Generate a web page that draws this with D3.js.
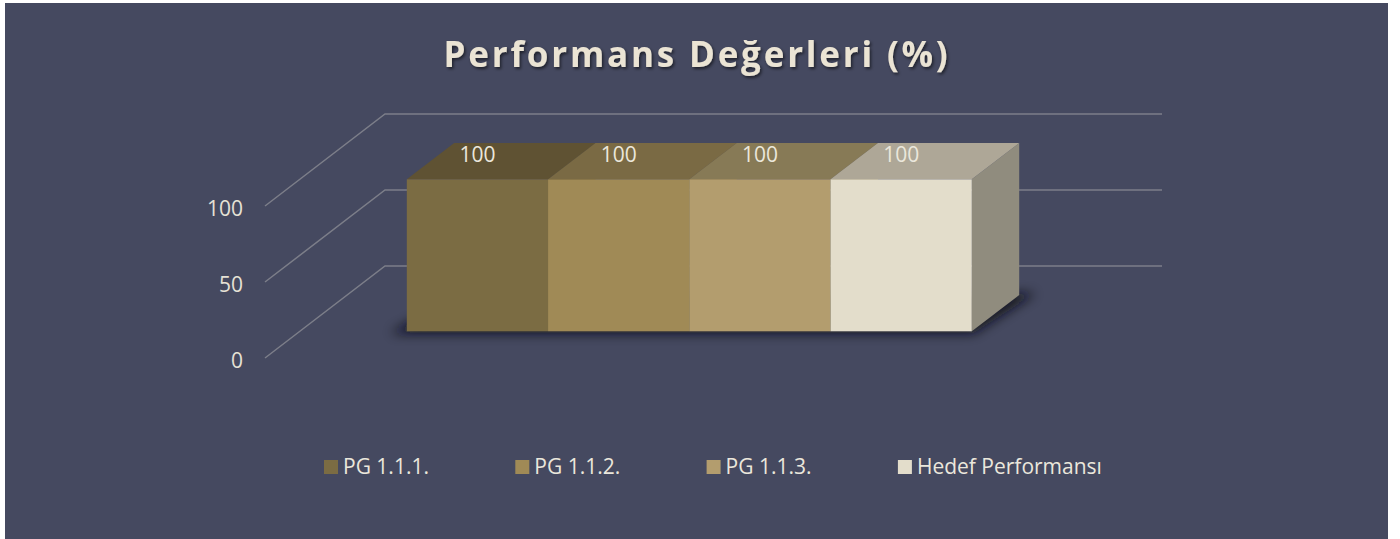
<!DOCTYPE html>
<html lang="tr">
<head>
<meta charset="UTF-8">
<title>Performans Değerleri</title>
<script src="https://cdn.jsdelivr.net/npm/d3@7/dist/d3.min.js"></script>
<style>
    body { margin: 0; background: #fff; }
    svg { display: block; font-family: "Open Sans", "Noto Sans", sans-serif; }
</style>
</head>
<body>
<div id="chart"></div>
<script>
    // chart data
    const series = ['PG 1.1.1.', 'PG 1.1.2.', 'PG 1.1.3.', 'Hedef Performansı'];
    const values = [100, 100, 100, 100];
    const yTicks = [0, 50, 100];

    // face colours per series
    const frontColours = ['#7b6c43', '#a08a56', '#b39d6e', '#e3ddcb'];
    const topColours   = ['#5f5233', '#7a6a44', '#877a56', '#aea797'];
    const sideColours  = ['#4f4429', '#6a5c3a', '#776a4a', '#908c7e'];

    const width = 1400, height = 539;

    // oblique 3d: depth 0 = front plane, 1 = back wall
    const depthX = 120, depthY = -92;
    const barDepth = [0.29, 0.685];

    const x = d3.scaleBand().domain(series).range([372, 937]).padding(0);
    const y = d3.scaleLinear().domain([0, 100]).range([358, 206]);
    const plotX = [265, 1042];

    const proj = (px, v, d) => [px + d * depthX, y(v) + d * depthY];

    const svg = d3.select('#chart').append('svg')
        .attr('width', width)
        .attr('height', height);

    const defs = svg.append('defs');
    defs.append('filter').attr('id', 'blur')
        .attr('x', '-20%').attr('y', '-50%').attr('width', '140%').attr('height', '200%')
        .append('feGaussianBlur').attr('stdDeviation', 6);
    const ts = defs.append('filter').attr('id', 'titleShadow');
    ts.append('feDropShadow')
        .attr('dx', 1.5).attr('dy', 2).attr('stdDeviation', 1.5)
        .attr('flood-color', '#000').attr('flood-opacity', 0.55);

    // background panel
    svg.append('rect')
        .attr('x', 5).attr('y', 3)
        .attr('width', 1383).attr('height', 536)
        .attr('fill', '#454960');

    // title
    svg.append('text')
        .attr('x', 697).attr('y', 67)
        .attr('text-anchor', 'middle')
        .attr('font-size', 35)
        .attr('font-weight', 700)
        .attr('letter-spacing', 2.8)
        .attr('fill', '#ebe4d4')
        .attr('filter', 'url(#titleShadow)')
        .text('Performans Değerleri (%)');

    // gridlines: back wall + side diagonals
    const line = d3.line();
    const grid = svg.append('g')
        .attr('stroke', '#7c7e89')
        .attr('stroke-width', 1.5)
        .attr('fill', 'none');

    yTicks.forEach(t => {
        grid.append('path').attr('d', line([proj(plotX[0], t, 0), proj(plotX[0], t, 1), proj(plotX[1], t, 1)]));
    });

    // y tick labels
    svg.append('g').selectAll('text')
        .data(yTicks)
        .join('text')
        .attr('x', plotX[0] - 22)
        .attr('y', d => y(d) + 10)
        .attr('text-anchor', 'end')
        .attr('font-size', 21)
        .attr('fill', '#e6e1d6')
        .text(d => d);

    // floor shadow under the bars
    const xs = x.range();
    const shadowPts = [
        proj(xs[0] - 14, 0, barDepth[0] - 0.02),
        proj(xs[1] + 4, 0, barDepth[0] - 0.02),
        proj(xs[1] + 14, 0, barDepth[1] + 0.02),
        proj(xs[0] + 6, 0, barDepth[1] + 0.02)
    ];
    svg.append('path')
        .attr('d', line(shadowPts) + 'Z')
        .attr('fill', '#0b0c16')
        .attr('opacity', 0.85)
        .attr('filter', 'url(#blur)');

    // bars
    const bars = svg.append('g').selectAll('g')
        .data(series)
        .join('g');

    bars.each(function(s, i) {
        const g = d3.select(this);
        const x0 = x(s), x1 = x(s) + x.bandwidth();
        const v = values[i];
        const [d0, d1] = barDepth;

        // right side
        g.append('path')
            .attr('d', line([proj(x1, 0, d0), proj(x1, v, d0), proj(x1, v, d1), proj(x1, 0, d1)]) + 'Z')
            .attr('fill', sideColours[i]);
        // top
        g.append('path')
            .attr('d', line([proj(x0, v, d0), proj(x1, v, d0), proj(x1, v, d1), proj(x0, v, d1)]) + 'Z')
            .attr('fill', topColours[i]);
        // front
        const [fx, fy] = proj(x0, v, d0);
        const [, fb] = proj(x0, 0, d0);
        g.append('rect')
            .attr('x', fx).attr('y', fy)
            .attr('width', x.bandwidth())
            .attr('height', fb - fy)
            .attr('fill', frontColours[i]);
    });

    // data labels
    svg.append('g').selectAll('text')
        .data(series)
        .join('text')
        .attr('x', (s) => proj(x(s) + x.bandwidth() / 2, 0, barDepth[0])[0])
        .attr('y', (s, i) => proj(0, values[i], barDepth[0])[1] - 17)
        .attr('text-anchor', 'middle')
        .attr('font-size', 21)
        .attr('fill', '#ebe7dc')
        .text((s, i) => values[i]);

    // legend
    const legend = svg.append('g').selectAll('g')
        .data(series)
        .join('g')
        .attr('transform', (s, i) => `translate(${324 + i * 191.3},460)`);

    legend.append('rect')
        .attr('width', 14).attr('height', 14)
        .attr('fill', (s, i) => frontColours[i]);

    legend.append('text')
        .attr('x', 19).attr('y', 14)
        .attr('font-size', 21)
        .attr('fill', '#ebe7dc')
        .text(s => s);
</script>
</body>
</html>
